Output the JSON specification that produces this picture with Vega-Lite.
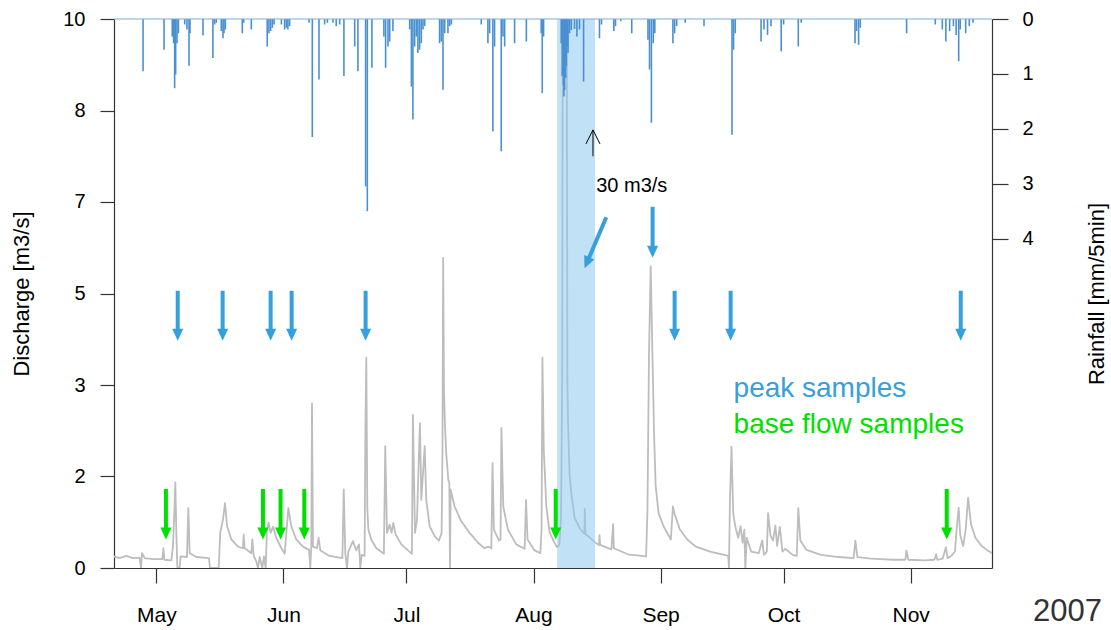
{
  "$schema": "https://vega.github.io/schema/vega-lite/v6.json",
  "width": 878,
  "height": 549,
  "autosize": {"type": "none"},
  "padding": {"left": 114, "top": 19, "right": 119, "bottom": 62},
  "background": "white",
  "data": {"values": [{}]},
  "config": {
    "font": "Liberation Sans",
    "view": {"stroke": null},
    "axis": {"grid": false, "labelColor": "#000", "titleColor": "#000", "domainColor": "#333", "tickColor": "#333", "domainWidth": 1.2, "tickWidth": 1.2, "titleFontWeight": "normal"}
  },
  "datasets": {
    "discharge": [
      {"t":"2007-04-20T16:00","q":0.21},{"t":"2007-04-22T01:00","q":0.18},{"t":"2007-04-23T16:00","q":0.22},{"t":"2007-04-25T07:00","q":0.18},{"t":"2007-04-26T22:00","q":0.19},{"t":"2007-04-27T06:00","q":0},{"t":"2007-04-27T12:00","q":0.27},{"t":"2007-04-28T04:00","q":0.18},{"t":"2007-04-30T04:00","q":0.16},
      {"t":"2007-05-02T11:00","q":0.16},{"t":"2007-05-02T17:00","q":0.36},{"t":"2007-05-02T23:00","q":0.15},{"t":"2007-05-04T16:00","q":0.14},{"t":"2007-05-05T01:00","q":0.39},{"t":"2007-05-05T09:00","q":1.0},{"t":"2007-05-05T15:00","q":1.56},{"t":"2007-05-05T21:00","q":0.64},{"t":"2007-05-06T03:00","q":0},{"t":"2007-05-06T16:00","q":0},{"t":"2007-05-06T22:00","q":0.21},{"t":"2007-05-08T11:00","q":0.2},{"t":"2007-05-08T19:00","q":1.09},{"t":"2007-05-09T03:00","q":0.27},{"t":"2007-05-10T18:00","q":0.2},{"t":"2007-05-13T20:00","q":0.18},{"t":"2007-05-14T02:00","q":0},{"t":"2007-05-16T05:00","q":0},{"t":"2007-05-16T14:00","q":0.64},{"t":"2007-05-17T06:00","q":0.88},{"t":"2007-05-17T18:00","q":1.18},{"t":"2007-05-18T06:00","q":0.76},{"t":"2007-05-19T07:00","q":0.52},{"t":"2007-05-20T22:00","q":0.39},{"t":"2007-05-22T03:00","q":0.36},{"t":"2007-05-22T07:00","q":0.61},{"t":"2007-05-22T13:00","q":0.36},{"t":"2007-05-24T04:00","q":0.27},{"t":"2007-05-24T10:00","q":0.52},{"t":"2007-05-24T18:00","q":0.22},{"t":"2007-05-25T09:00","q":0.12},{"t":"2007-05-25T19:00","q":0},{"t":"2007-05-26T05:00","q":0.2},{"t":"2007-05-26T20:00","q":0},{"t":"2007-05-27T06:00","q":0.21},{"t":"2007-05-27T16:00","q":0},{"t":"2007-05-27T23:00","q":0.64},{"t":"2007-05-28T09:00","q":0.83},{"t":"2007-05-28T21:00","q":0.64},{"t":"2007-05-29T11:00","q":0.75},{"t":"2007-05-30T06:00","q":0.55},{"t":"2007-05-31T12:00","q":0.36},
      {"t":"2007-06-01T07:00","q":0.26},{"t":"2007-06-01T17:00","q":0.64},{"t":"2007-06-02T05:00","q":1.09},{"t":"2007-06-02T22:00","q":0.76},{"t":"2007-06-04T03:00","q":0.52},{"t":"2007-06-05T18:00","q":0.39},{"t":"2007-06-07T06:00","q":0.33},{"t":"2007-06-07T13:00","q":0},{"t":"2007-06-07T19:00","q":0.39},{"t":"2007-06-07T23:00","q":3.0},{"t":"2007-06-08T05:00","q":0.39},{"t":"2007-06-09T04:00","q":0.36},{"t":"2007-06-09T14:00","q":0.55},{"t":"2007-06-10T00:00","q":0.32},{"t":"2007-06-12T06:00","q":0.22},{"t":"2007-06-15T09:00","q":0.18},{"t":"2007-06-15T17:00","q":1.43},{"t":"2007-06-16T02:00","q":0.27},{"t":"2007-06-16T12:00","q":0},{"t":"2007-06-16T20:00","q":0.3},{"t":"2007-06-17T23:00","q":0.49},{"t":"2007-06-18T18:00","q":0.32},{"t":"2007-06-19T10:00","q":0.43},{"t":"2007-06-19T18:00","q":0},{"t":"2007-06-20T02:00","q":0.24},{"t":"2007-06-20T19:00","q":0.22},{"t":"2007-06-21T00:00","q":2.61},{"t":"2007-06-21T05:00","q":3.83},{"t":"2007-06-21T11:00","q":1.1},{"t":"2007-06-21T17:00","q":0.7},{"t":"2007-06-22T10:00","q":0.52},{"t":"2007-06-23T16:00","q":0.36},{"t":"2007-06-25T12:00","q":0.26},{"t":"2007-06-25T20:00","q":2.22},{"t":"2007-06-26T06:00","q":0.64},{"t":"2007-06-26T22:00","q":0.79},{"t":"2007-06-27T09:00","q":0.64},{"t":"2007-06-27T19:00","q":0.82},{"t":"2007-06-28T09:00","q":0.61},{"t":"2007-06-29T18:00","q":0.43},
      {"t":"2007-07-01T09:00","q":0.32},{"t":"2007-07-02T08:00","q":0.26},{"t":"2007-07-02T14:00","q":2.79},{"t":"2007-07-03T02:00","q":0.64},{"t":"2007-07-03T14:00","q":0.88},{"t":"2007-07-04T00:00","q":1.97},{"t":"2007-07-04T07:00","q":2.64},{"t":"2007-07-04T15:00","q":1.24},{"t":"2007-07-05T01:00","q":1.73},{"t":"2007-07-05T11:00","q":2.22},{"t":"2007-07-05T20:00","q":1.24},{"t":"2007-07-06T16:00","q":0.76},{"t":"2007-07-07T21:00","q":0.58},{"t":"2007-07-08T22:00","q":0.5},{"t":"2007-07-09T14:00","q":0.64},{"t":"2007-07-09T19:00","q":2.16},{"t":"2007-07-09T23:00","q":5.65},{"t":"2007-07-10T04:00","q":3.2},{"t":"2007-07-10T10:00","q":2.58},{"t":"2007-07-10T17:00","q":2.09},{"t":"2007-07-11T05:00","q":1.61},{"t":"2007-07-11T11:00","q":1.55},{"t":"2007-07-11T15:00","q":0},{"t":"2007-07-11T19:00","q":1.43},{"t":"2007-07-12T18:00","q":1.12},{"t":"2007-07-14T09:00","q":0.85},{"t":"2007-07-16T10:00","q":0.64},{"t":"2007-07-18T11:00","q":0.46},{"t":"2007-07-20T02:00","q":0.36},{"t":"2007-07-20T21:00","q":0.39},{"t":"2007-07-21T17:00","q":0.36},{"t":"2007-07-22T00:00","q":1.91},{"t":"2007-07-22T08:00","q":0.7},{"t":"2007-07-23T14:00","q":0.5},{"t":"2007-07-23T23:00","q":0.52},{"t":"2007-07-24T04:00","q":2.55},{"t":"2007-07-24T15:00","q":1.12},{"t":"2007-07-25T18:00","q":0.7},{"t":"2007-07-27T19:00","q":0.43},{"t":"2007-07-29T20:00","q":0.35},{"t":"2007-07-30T04:00","q":1.24},{"t":"2007-07-30T13:00","q":0.52},
      {"t":"2007-08-01T06:00","q":0.32},{"t":"2007-08-02T16:00","q":0.27},{"t":"2007-08-02T23:00","q":0.7},{"t":"2007-08-03T04:00","q":3.83},{"t":"2007-08-03T12:00","q":2.16},{"t":"2007-08-04T03:00","q":1.12},{"t":"2007-08-04T22:00","q":0.65},{"t":"2007-08-05T22:00","q":0.49},{"t":"2007-08-06T17:00","q":0.38},{"t":"2007-08-07T07:00","q":0.42},{"t":"2007-08-07T17:00","q":0.9},{"t":"2007-08-08T00:00","q":3.5},{"t":"2007-08-08T05:00","q":14},{"t":"2007-08-08T11:00","q":30},{"t":"2007-08-08T17:00","q":16},{"t":"2007-08-08T22:00","q":24},{"t":"2007-08-09T02:00","q":12},{"t":"2007-08-09T06:00","q":3.44},{"t":"2007-08-09T10:00","q":2.66},{"t":"2007-08-09T19:00","q":1.7},{"t":"2007-08-10T05:00","q":1.37},{"t":"2007-08-11T00:00","q":0.92},{"t":"2007-08-12T07:00","q":0.72},{"t":"2007-08-13T10:00","q":0.62},{"t":"2007-08-13T12:00","q":1.08},{"t":"2007-08-13T16:00","q":0.62},{"t":"2007-08-14T07:00","q":0.58},{"t":"2007-08-15T22:00","q":0.47},{"t":"2007-08-17T00:00","q":0.42},{"t":"2007-08-17T02:00","q":0.6},{"t":"2007-08-17T06:00","q":0.42},{"t":"2007-08-20T00:00","q":0.34},{"t":"2007-08-20T10:00","q":0.8},{"t":"2007-08-20T14:00","q":0.36},{"t":"2007-08-24T00:00","q":0.25},{"t":"2007-08-28T11:00","q":0.21},{"t":"2007-08-28T19:00","q":1.06},{"t":"2007-08-29T04:00","q":3.9},{"t":"2007-08-29T14:00","q":5.5},{"t":"2007-08-30T00:00","q":3.9},{"t":"2007-08-30T10:00","q":2.4},{"t":"2007-08-30T19:00","q":1.5},{"t":"2007-08-31T12:00","q":1.0},
      {"t":"2007-09-01T17:00","q":0.76},{"t":"2007-09-03T12:00","q":0.52},{"t":"2007-09-04T00:00","q":1.12},{"t":"2007-09-04T10:00","q":0.98},{"t":"2007-09-05T17:00","q":0.7},{"t":"2007-09-07T12:00","q":0.52},{"t":"2007-09-09T14:00","q":0.39},{"t":"2007-09-13T02:00","q":0.3},{"t":"2007-09-17T12:00","q":0.22},{"t":"2007-09-17T16:00","q":0},{"t":"2007-09-17T22:00","q":1.24},{"t":"2007-09-18T07:00","q":2.21},{"t":"2007-09-18T17:00","q":1.0},{"t":"2007-09-19T05:00","q":0.76},{"t":"2007-09-19T22:00","q":0.55},{"t":"2007-09-20T12:00","q":0.76},{"t":"2007-09-21T00:00","q":0.46},{"t":"2007-09-21T10:00","q":0.7},{"t":"2007-09-21T16:00","q":0},{"t":"2007-09-22T00:00","q":0.55},{"t":"2007-09-23T02:00","q":0.3},{"t":"2007-09-24T22:00","q":0.27},{"t":"2007-09-25T19:00","q":0.5},{"t":"2007-09-26T05:00","q":0.24},{"t":"2007-09-26T22:00","q":0.3},{"t":"2007-09-27T05:00","q":1.0},{"t":"2007-09-27T19:00","q":0.6},{"t":"2007-09-28T10:00","q":0.5},{"t":"2007-09-29T00:00","q":0.77},{"t":"2007-09-29T10:00","q":0.4},{"t":"2007-09-30T02:00","q":0.75},{"t":"2007-09-30T17:00","q":0.3},
      {"t":"2007-10-01T10:00","q":0.35},{"t":"2007-10-03T05:00","q":0.24},{"t":"2007-10-04T05:00","q":0.22},{"t":"2007-10-04T14:00","q":1.09},{"t":"2007-10-05T02:00","q":0.5},{"t":"2007-10-06T14:00","q":0.33},{"t":"2007-10-10T02:00","q":0.24},{"t":"2007-10-14T12:00","q":0.2},{"t":"2007-10-18T02:00","q":0.18},{"t":"2007-10-18T12:00","q":0.5},{"t":"2007-10-19T00:00","q":0.2},{"t":"2007-10-22T07:00","q":0.17},{"t":"2007-10-27T14:00","q":0.15},{"t":"2007-10-30T17:00","q":0.15},{"t":"2007-10-30T23:00","q":0.32},{"t":"2007-10-31T10:00","q":0.15},
      {"t":"2007-11-04T10:00","q":0.14},{"t":"2007-11-06T19:00","q":0.15},{"t":"2007-11-07T05:00","q":0.25},{"t":"2007-11-07T12:00","q":0.15},{"t":"2007-11-08T19:00","q":0.17},{"t":"2007-11-09T14:00","q":0.38},{"t":"2007-11-10T00:00","q":0.18},{"t":"2007-11-10T22:00","q":0.22},{"t":"2007-11-11T19:00","q":0.3},{"t":"2007-11-12T05:00","q":0.7},{"t":"2007-11-12T17:00","q":1.1},{"t":"2007-11-13T02:00","q":0.6},{"t":"2007-11-13T19:00","q":0.4},{"t":"2007-11-14T10:00","q":0.7},{"t":"2007-11-15T00:00","q":1.28},{"t":"2007-11-15T17:00","q":0.8},{"t":"2007-11-16T19:00","q":0.55},{"t":"2007-11-18T07:00","q":0.4},{"t":"2007-11-19T14:00","q":0.33},{"t":"2007-11-20T20:00","q":0.27}
    ],
    "rain": [
      {"t":"2007-04-27T18:00","rain":0.95},{"t":"2007-05-02T21:00","rain":0.56},{"t":"2007-05-04T21:00","rain":0.32},{"t":"2007-05-05T05:00","rain":0.44},{"t":"2007-05-05T11:00","rain":1.26},{"t":"2007-05-05T17:00","rain":1.01},{"t":"2007-05-06T01:00","rain":0.44},{"t":"2007-05-06T09:00","rain":0.26},{"t":"2007-05-07T22:00","rain":0.1},{"t":"2007-05-08T11:00","rain":0.19},{"t":"2007-05-08T23:00","rain":0.85},{"t":"2007-05-09T05:00","rain":0.26},{"t":"2007-05-12T09:00","rain":0.3},{"t":"2007-05-14T19:00","rain":0.71},{"t":"2007-05-15T05:00","rain":0.1},{"t":"2007-05-15T15:00","rain":0.07},{"t":"2007-05-16T20:00","rain":0.22},{"t":"2007-05-17T06:00","rain":0.35},{"t":"2007-05-17T12:00","rain":0.26},{"t":"2007-05-17T20:00","rain":0.19},{"t":"2007-05-21T23:00","rain":0.26},{"t":"2007-05-22T07:00","rain":0.07},{"t":"2007-05-24T04:00","rain":0.19},{"t":"2007-05-28T01:00","rain":0.5},{"t":"2007-05-28T11:00","rain":0.26},{"t":"2007-05-28T21:00","rain":0.22},{"t":"2007-05-29T07:00","rain":0.16},{"t":"2007-05-29T17:00","rain":0.1},{"t":"2007-05-31T12:00","rain":0.1},
      {"t":"2007-06-01T07:00","rain":0.19},{"t":"2007-06-01T17:00","rain":0.16},{"t":"2007-06-02T02:00","rain":0.19},{"t":"2007-06-02T12:00","rain":0.13},{"t":"2007-06-07T06:00","rain":0.07},{"t":"2007-06-08T01:00","rain":2.15},{"t":"2007-06-09T16:00","rain":1.1},{"t":"2007-06-11T01:00","rain":0.1},{"t":"2007-06-11T17:00","rain":0.07},{"t":"2007-06-13T02:00","rain":0.07},{"t":"2007-06-13T21:00","rain":0.13},{"t":"2007-06-14T17:00","rain":0.1},{"t":"2007-06-15T18:00","rain":1.04},{"t":"2007-06-18T09:00","rain":0.5},{"t":"2007-06-19T04:00","rain":0.95},{"t":"2007-06-21T01:00","rain":3.05},{"t":"2007-06-21T11:00","rain":3.5},{"t":"2007-06-22T14:00","rain":0.89},{"t":"2007-06-25T12:00","rain":0.32},{"t":"2007-06-25T22:00","rain":0.89},{"t":"2007-06-26T12:00","rain":0.5},{"t":"2007-06-26T22:00","rain":0.41},{"t":"2007-06-27T17:00","rain":0.22},
      {"t":"2007-07-01T19:00","rain":0.19},{"t":"2007-07-02T05:00","rain":1.23},{"t":"2007-07-02T14:00","rain":1.83},{"t":"2007-07-03T00:00","rain":0.5},{"t":"2007-07-03T10:00","rain":0.32},{"t":"2007-07-03T19:00","rain":0.62},{"t":"2007-07-04T05:00","rain":0.56},{"t":"2007-07-04T15:00","rain":0.44},{"t":"2007-07-05T01:00","rain":0.19},{"t":"2007-07-05T11:00","rain":0.13},{"t":"2007-07-09T02:00","rain":0.44},{"t":"2007-07-09T12:00","rain":0.41},{"t":"2007-07-09T22:00","rain":1.29},{"t":"2007-07-10T08:00","rain":0.26},{"t":"2007-07-11T03:00","rain":0.26},{"t":"2007-07-11T13:00","rain":0.13},{"t":"2007-07-11T23:00","rain":0.1},{"t":"2007-07-19T06:00","rain":0.1},{"t":"2007-07-20T21:00","rain":0.44},{"t":"2007-07-21T07:00","rain":0.26},{"t":"2007-07-22T02:00","rain":2.05},{"t":"2007-07-22T12:00","rain":0.5},{"t":"2007-07-24T03:00","rain":2.41},{"t":"2007-07-24T13:00","rain":0.32},{"t":"2007-07-24T23:00","rain":0.5},{"t":"2007-07-27T09:00","rain":0.44},{"t":"2007-07-30T06:00","rain":0.41},
      {"t":"2007-08-02T21:00","rain":0.26},{"t":"2007-08-03T03:00","rain":1.35},{"t":"2007-08-03T11:00","rain":0.32},{"t":"2007-08-07T18:00","rain":0.44},{"t":"2007-08-08T00:00","rain":1.04},{"t":"2007-08-08T04:00","rain":0.8},{"t":"2007-08-08T07:00","rain":1.2},{"t":"2007-08-08T10:00","rain":1.41},{"t":"2007-08-08T14:00","rain":1.29},{"t":"2007-08-08T17:00","rain":0.9},{"t":"2007-08-08T20:00","rain":1.07},{"t":"2007-08-09T00:00","rain":0.86},{"t":"2007-08-09T07:00","rain":0.5},{"t":"2007-08-09T10:00","rain":0.62},{"t":"2007-08-09T19:00","rain":0.26},{"t":"2007-08-10T05:00","rain":0.2},{"t":"2007-08-11T00:00","rain":0.18},{"t":"2007-08-11T14:00","rain":0.32},{"t":"2007-08-12T05:00","rain":0.19},{"t":"2007-08-13T05:00","rain":1.14},{"t":"2007-08-17T02:00","rain":0.35},{"t":"2007-08-17T14:00","rain":0.1},{"t":"2007-08-20T14:00","rain":0.22},{"t":"2007-08-21T00:00","rain":0.13},{"t":"2007-08-22T07:00","rain":0.04},{"t":"2007-08-24T23:00","rain":0.26},{"t":"2007-08-28T22:00","rain":0.38},{"t":"2007-08-29T07:00","rain":0.92},{"t":"2007-08-29T18:00","rain":1.89},{"t":"2007-08-30T05:00","rain":0.44},{"t":"2007-08-30T14:00","rain":0.26},
      {"t":"2007-09-04T00:00","rain":0.44},{"t":"2007-09-04T10:00","rain":0.26},{"t":"2007-09-04T22:00","rain":0.13},{"t":"2007-09-07T00:00","rain":0.07},{"t":"2007-09-11T14:00","rain":0.13},{"t":"2007-09-18T10:00","rain":2.11},{"t":"2007-09-18T19:00","rain":0.56},{"t":"2007-09-19T05:00","rain":0.26},{"t":"2007-09-25T12:00","rain":0.41},{"t":"2007-09-26T05:00","rain":0.19},{"t":"2007-09-27T02:00","rain":0.29},{"t":"2007-09-27T22:00","rain":0.13},{"t":"2007-09-30T10:00","rain":0.59},
      {"t":"2007-10-01T00:00","rain":0.1},{"t":"2007-10-04T14:00","rain":0.5},{"t":"2007-10-05T07:00","rain":0.07},{"t":"2007-10-18T10:00","rain":0.44},{"t":"2007-10-18T19:00","rain":0.22},{"t":"2007-10-19T07:00","rain":0.47},{"t":"2007-10-19T17:00","rain":0.16},{"t":"2007-10-31T00:00","rain":0.26},
      {"t":"2007-11-07T00:00","rain":0.1},{"t":"2007-11-08T17:00","rain":0.19},{"t":"2007-11-09T14:00","rain":0.41},{"t":"2007-11-10T12:00","rain":0.22},{"t":"2007-11-11T10:00","rain":0.13},{"t":"2007-11-12T02:00","rain":0.29},{"t":"2007-11-12T17:00","rain":0.77},{"t":"2007-11-13T02:00","rain":0.19},{"t":"2007-11-14T10:00","rain":0.26},{"t":"2007-11-15T07:00","rain":0.13},{"t":"2007-11-16T05:00","rain":0.07}
    ],
    "peak": [
      {"t":"2007-05-06T05:00","top":5.05,"tip":4.14},{"t":"2007-05-17T04:00","top":5.05,"tip":4.14},{"t":"2007-05-28T21:00","top":5.05,"tip":4.14},{"t":"2007-06-03T00:00","top":5.05,"tip":4.14},{"t":"2007-06-21T01:00","top":5.05,"tip":4.14},{"t":"2007-08-30T01:00","top":6.58,"tip":5.65},{"t":"2007-09-04T10:00","top":5.05,"tip":4.14},{"t":"2007-09-18T02:00","top":5.05,"tip":4.14},{"t":"2007-11-13T05:00","top":5.05,"tip":4.14}
    ],
    "base": [
      {"t":"2007-05-03T08:00","top":1.44,"tip":0.52},{"t":"2007-05-27T00:00","top":1.44,"tip":0.52},{"t":"2007-05-31T07:00","top":1.44,"tip":0.52},{"t":"2007-06-06T02:00","top":1.44,"tip":0.52},{"t":"2007-08-06T10:00","top":1.44,"tip":0.52},{"t":"2007-11-09T19:00","top":1.44,"tip":0.52}
    ]
  },
  "layer": [
    {
      "layer": [
        {
          "data": {"name": "discharge"},
          "mark": {"type": "line", "color": "#bdbdbd", "strokeWidth": 1.8, "strokeJoin": "round", "clip": true},
          "encoding": {
            "x": {
              "field": "t", "type": "temporal",
              "scale": {"domain": [{"year": 2007, "month": 4, "date": 20, "hours": 16}, {"year": 2007, "month": 11, "date": 20, "hours": 20}]},
              "axis": {
                "title": null, "format": "%b", "labelFontSize": 21, "tickSize": 15, "labelPadding": 21, "labelFlush": false,
                "values": [{"year":2007,"month":5,"date":1},{"year":2007,"month":6,"date":1},{"year":2007,"month":7,"date":1},{"year":2007,"month":8,"date":1},{"year":2007,"month":9,"date":1},{"year":2007,"month":10,"date":1},{"year":2007,"month":11,"date":1}]
              }
            },
            "y": {
              "field": "q", "type": "quantitative",
              "scale": {"domain": [0, 10], "nice": false, "zero": false},
              "axis": {
                "title": "Discharge [m3/s]", "titleFontSize": 22, "titlePadding": 29,
                "values": [0, 1.666667, 3.333333, 5, 6.666667, 8.333333, 10], "format": ".0f",
                "labelFontSize": 20, "tickSize": 14, "labelPadding": 15
              }
            }
          }
        },
        {
          "mark": {"type": "rect", "color": "#8ec8f0", "opacity": 0.55},
          "encoding": {
            "x": {"datum": {"year": 2007, "month": 8, "date": 6, "hours": 18}, "type": "temporal"},
            "x2": {"datum": {"year": 2007, "month": 8, "date": 16, "hours": 0}}
          }
        },
        {
          "data": {"name": "peak"},
          "mark": {"type": "rule", "color": "#36a0dc", "strokeWidth": 4, "y2Offset": -6},
          "encoding": {
            "x": {"field": "t", "type": "temporal"},
            "y": {"field": "top", "type": "quantitative"},
            "y2": {"field": "tip"}
          }
        },
        {
          "data": {"name": "peak"},
          "mark": {"type": "point", "shape": "M-0.92,-1L0.92,-1L0,1Z", "size": 144, "filled": true, "opacity": 1, "color": "#36a0dc", "yOffset": -6},
          "encoding": {
            "x": {"field": "t", "type": "temporal"},
            "y": {"field": "tip", "type": "quantitative"}
          }
        },
        {
          "data": {"name": "base"},
          "mark": {"type": "rule", "color": "#00e000", "strokeWidth": 4, "y2Offset": -6},
          "encoding": {
            "x": {"field": "t", "type": "temporal"},
            "y": {"field": "top", "type": "quantitative"},
            "y2": {"field": "tip"}
          }
        },
        {
          "data": {"name": "base"},
          "mark": {"type": "point", "shape": "M-0.92,-1L0.92,-1L0,1Z", "size": 144, "filled": true, "opacity": 1, "color": "#00e000", "yOffset": -6},
          "encoding": {
            "x": {"field": "t", "type": "temporal"},
            "y": {"field": "tip", "type": "quantitative"}
          }
        },
        {
          "mark": {"type": "rule", "color": "#36a0dc", "strokeWidth": 4, "x2Offset": 2.3, "y2Offset": -5.5},
          "encoding": {
            "x": {"datum": {"year": 2007, "month": 8, "date": 18, "hours": 18}, "type": "temporal"},
            "y": {"datum": 6.39, "type": "quantitative"},
            "x2": {"datum": {"year": 2007, "month": 8, "date": 13, "hours": 11}},
            "y2": {"datum": 5.46}
          }
        },
        {
          "mark": {"type": "point", "shape": "M-0.92,-1L0.92,-1L0,1Z", "size": 144, "filled": true, "opacity": 1, "color": "#36a0dc", "xOffset": 2.3, "yOffset": -5.5, "angle": 23},
          "encoding": {
            "x": {"datum": {"year": 2007, "month": 8, "date": 13, "hours": 11}, "type": "temporal"},
            "y": {"datum": 5.46, "type": "quantitative"}
          }
        },
        {
          "mark": {"type": "rule", "color": "#000", "strokeWidth": 1},
          "encoding": {
            "x": {"datum": {"year": 2007, "month": 8, "date": 15, "hours": 12}, "type": "temporal"},
            "y": {"datum": 7.5, "type": "quantitative"},
            "y2": {"datum": 7.98}
          }
        },
        {
          "mark": {"type": "point", "shape": "M-1,1L0,-1L1,1", "size": 196, "filled": false, "opacity": 1, "color": "#000", "strokeWidth": 1, "yOffset": 7},
          "encoding": {
            "x": {"datum": {"year": 2007, "month": 8, "date": 15, "hours": 12}, "type": "temporal"},
            "y": {"datum": 7.98, "type": "quantitative"}
          }
        },
        {
          "mark": {"type": "text", "text": "30 m3/s", "fontSize": 20, "color": "#000", "align": "left", "baseline": "alphabetic"},
          "encoding": {
            "x": {"datum": {"year": 2007, "month": 8, "date": 16, "hours": 7}, "type": "temporal"},
            "y": {"datum": 6.84, "type": "quantitative"}
          }
        },
        {
          "mark": {"type": "text", "text": "peak samples", "fontSize": 28, "color": "#36a0dc", "align": "left", "baseline": "alphabetic"},
          "encoding": {
            "x": {"datum": {"year": 2007, "month": 9, "date": 18, "hours": 19}, "type": "temporal"},
            "y": {"datum": 3.11, "type": "quantitative"}
          }
        },
        {
          "mark": {"type": "text", "text": "base flow samples", "fontSize": 28, "color": "#00e000", "align": "left", "baseline": "alphabetic"},
          "encoding": {
            "x": {"datum": {"year": 2007, "month": 9, "date": 18, "hours": 19}, "type": "temporal"},
            "y": {"datum": 2.46, "type": "quantitative"}
          }
        },
        {
          "mark": {"type": "text", "text": "2007", "fontSize": 31, "color": "#333", "align": "left", "baseline": "alphabetic"},
          "encoding": {
            "x": {"datum": {"year": 2007, "month": 11, "date": 30, "hours": 20}, "type": "temporal"},
            "y": {"datum": -0.97, "type": "quantitative"}
          }
        }
      ]
    },
    {
      "layer": [
        {
          "data": {"name": "rain"},
          "mark": {"type": "rule", "color": "#4a90d0", "strokeWidth": 1.6},
          "encoding": {
            "x": {"field": "t", "type": "temporal"},
            "y": {
              "field": "rain", "type": "quantitative",
              "scale": {"domain": [0, 10], "reverse": true, "nice": false, "zero": false},
              "axis": {
                "orient": "right", "title": "Rainfall [mm/5min]", "titleFontSize": 22, "titleAngle": 270, "titleBaseline": "top", "titlePadding": 53,
                "values": [0, 1, 2, 3, 4], "labelFontSize": 20, "tickSize": 16, "labelPadding": 14
              }
            },
            "y2": {"datum": 0}
          }
        },
        {
          "mark": {"type": "rule", "color": "#7aaedb", "strokeWidth": 1.2},
          "encoding": {
            "y": {"datum": 0, "type": "quantitative"}
          }
        }
      ]
    }
  ],
  "resolve": {"scale": {"y": "independent"}}
}
